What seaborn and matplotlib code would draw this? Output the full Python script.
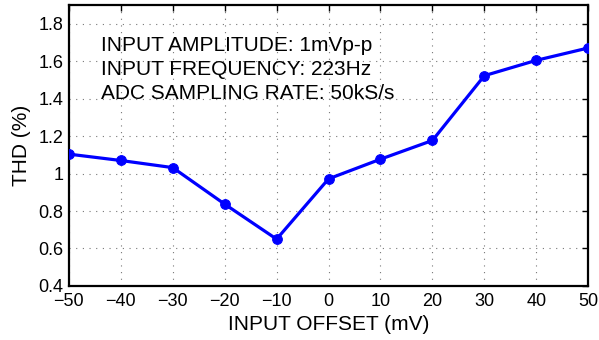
import matplotlib
matplotlib.use("Agg")
import matplotlib.pyplot as plt
import seaborn as sns
import pandas as pd

offset_mv = [-50, -40, -30, -20, -10, 0, 10, 20, 30, 40, 50]
thd_pct = [1.104, 1.070, 1.032, 0.837, 0.650, 0.972, 1.077, 1.177, 1.523, 1.605, 1.671]
x_ticks = [-50, -40, -30, -20, -10, 0, 10, 20, 30, 40, 50]
x_tick_labels = ["\u221250", "\u221240", "\u221230", "\u221220", "\u221210", "0", "10", "20", "30", "40", "50"]
y_ticks = [0.4, 0.6, 0.8, 1.0, 1.2, 1.4, 1.6, 1.8]
y_tick_labels = ["0.4", "0.6", "0.8", "1", "1.2", "1.4", "1.6", "1.8"]
notes = ["INPUT AMPLITUDE: 1mVp-p", "INPUT FREQUENCY: 223Hz", "ADC SAMPLING RATE: 50kS/s"]

sns.set_style("white")
plt.rcParams['font.family'] = ['Liberation Sans', 'DejaVu Sans']
plt.rcParams['text.color'] = 'black'
plt.rcParams['axes.labelcolor'] = 'black'

df = pd.DataFrame({"offset": offset_mv, "thd": thd_pct})

fig = plt.figure(figsize=(5.99, 3.40), dpi=100)
ax = fig.add_axes([0.115, 0.159, 0.867, 0.826])

sns.lineplot(data=df, x="offset", y="thd", ax=ax, color=(0, 0, 1), linewidth=2.3,
             marker="o", markersize=7, markeredgecolor=(0, 0, 1), zorder=3)

ax.set_xlim(-50, 50)
ax.set_ylim(0.4, 1.9)
ax.set_xticks(x_ticks)
ax.set_xticklabels(x_tick_labels)
ax.set_yticks(y_ticks)
ax.set_yticklabels(y_tick_labels)
ax.grid(True, linestyle=(0, (1, 5)), color="#777777", linewidth=0.8)
ax.tick_params(direction="in", top=True, right=True, length=4, width=1, labelsize=13,
               colors="black", pad=4)
ax.tick_params(axis="x", pad=5)
for s in ax.spines.values():
    s.set_linewidth(1.6)
    s.set_color("black")
ax.set_xlabel("INPUT OFFSET (mV)", fontsize=15, labelpad=4)
ax.set_ylabel("THD (%)", fontsize=15, labelpad=5)

for i, t in enumerate(notes):
    ax.text(0.062, 0.855 - i * 0.084, t, transform=ax.transAxes, fontsize=15,
            va="center", ha="left")

fig.savefig("out.png", dpi=100)
